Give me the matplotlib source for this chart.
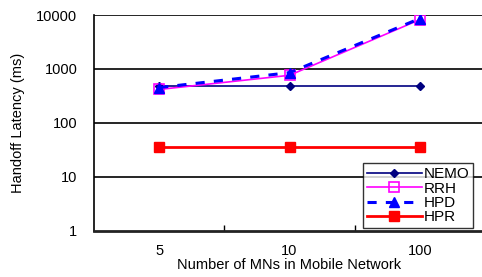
import matplotlib
matplotlib.use("Agg")
import matplotlib.pyplot as plt
from matplotlib.ticker import FixedLocator, NullLocator

plt.rcParams['font.family'] = ['Liberation Sans', 'DejaVu Sans']

categories = ['5', '10', '100']
nemo = [480, 480, 480]
rrh = [415, 760, 8200]
hpd = [450, 850, 8600]
hpr = [35, 35, 35]
yticks = [1, 10, 100, 1000, 10000]
ytick_labels = ['1', '10', '100', '1000', '10000']

fig = plt.figure(figsize=(4.82, 2.77), dpi=100)
ax = fig.add_axes([94/482, (277-230.5)/277, (485-94)/482, (230.5-15)/277])

x = list(range(len(categories)))
ax.plot(x, nemo, color='#000080', lw=1.2, marker='D', ms=4.5, label='NEMO')
ax.plot(x, rrh, color='#FF00FF', lw=1.2, marker='s', ms=7, mfc='none', mew=1.2, label='RRH')
ax.plot(x, hpd, color='#0000FF', lw=2.2, ls=(0, (3, 3)), marker='^', ms=7, label='HPD')
ax.plot(x, hpr, color='#FF0000', lw=2, marker='s', ms=7, label='HPR')

ax.set_yscale('log')
ax.set_ylim(1, 10000)
ax.set_xlim(-0.5, 2.5)
ax.yaxis.set_major_locator(FixedLocator(yticks))
ax.set_yticklabels(ytick_labels)
ax.yaxis.set_minor_locator(NullLocator())
ax.tick_params(axis='y', length=0, labelsize=10.5, pad=12)

ax.set_xticks(x)
ax.set_xticklabels(categories)
ax.set_xticks([0.5, 1.5], minor=True)
ax.tick_params(axis='x', which='major', length=0, labelsize=10.5, pad=10)
ax.tick_params(axis='x', which='minor', length=4, direction='in', color='black', width=1)

for v in yticks[1:]:
    ax.axhline(v, color='black', lw=1.2, zorder=0)

ax.spines['top'].set_visible(False)
ax.spines['right'].set_visible(False)
ax.spines['left'].set_color('black')
ax.spines['left'].set_linewidth(1.2)
ax.spines['bottom'].set_color('#222222')
ax.spines['bottom'].set_linewidth(2)

ax.set_ylabel('Handoff Latency (ms)', fontsize=10.5, labelpad=8)
ax.set_xlabel('Number of MNs in Mobile Network', fontsize=10.5, labelpad=0)

leg = ax.legend(loc='lower right', fontsize=11, frameon=True, fancybox=False, edgecolor='black',
                handlelength=3.6, handletextpad=0.1, labelspacing=0.02,
                borderpad=0.25, borderaxespad=0)
leg.get_frame().set_linewidth(1)
leg.set_bbox_to_anchor((473/482, (277-228)/277), transform=fig.transFigure)

fig.savefig('out.png', dpi=100)
